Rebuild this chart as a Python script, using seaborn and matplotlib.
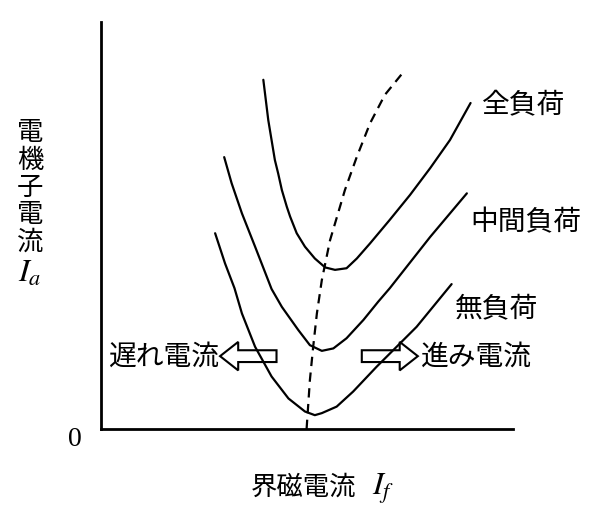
import matplotlib
matplotlib.use("Agg")
import matplotlib.pyplot as plt
from matplotlib.patches import FancyArrow
import seaborn as sns

# V-curves of a synchronous motor (field current vs armature current)
full_x = [3.94, 4.06, 4.14, 4.22, 4.30, 4.39, 4.51, 4.59, 4.75, 4.95, 5.19, 5.44, 5.68, 5.96,
          6.21, 6.53, 7.01, 7.50, 7.99, 8.47, 8.97]
full_y = [8.58, 7.59, 7.10, 6.61, 6.28, 5.87, 5.46, 5.22, 4.81, 4.48, 4.19, 3.97, 3.91, 3.95,
          4.19, 4.56, 5.14, 5.75, 6.41, 7.10, 8.01]

mid_x = [2.99, 3.17, 3.42, 3.74, 4.14, 4.39, 4.79, 5.07, 5.36, 5.64, 5.96, 6.37, 6.73, 7.01, 7.99, 8.88]
mid_y = [6.68, 6.04, 5.30, 4.48, 3.44, 3.00, 2.43, 2.06, 1.92, 1.98, 2.23, 2.68, 3.13, 3.46, 4.72, 5.79]

noload_x = [2.77, 3.01, 3.24, 3.42, 3.74, 4.14, 4.55, 4.95, 5.19, 5.36, 5.72, 6.12, 6.69, 7.66, 8.51]
noload_y = [4.81, 4.07, 3.46, 2.84, 2.02, 1.29, 0.75, 0.43, 0.34, 0.39, 0.55, 0.92, 1.53, 2.51, 3.56]

# locus of power factor 1 (minimum points)
pf1_x = [4.99, 5.07, 5.15, 5.24, 5.36, 5.56, 5.68, 5.92, 6.21, 6.53, 6.89, 7.38]
pf1_y = [0.00, 1.20, 2.02, 2.84, 3.66, 4.64, 5.05, 5.87, 6.69, 7.51, 8.21, 8.82]

curve_labels = ["全負荷", "中間負荷", "無負荷"]
label_pos = [(9.24, 7.96), (8.96, 5.09), (8.59, 2.97)]

sns.set_theme(style="white")
plt.rcParams["font.family"] = ["Noto Sans CJK JP", "DejaVu Sans"]
plt.rcParams["mathtext.fontset"] = "stix"

fig = plt.figure(figsize=(6, 5.16), dpi=100)
ax = fig.add_axes([101 / 600, 87 / 516, 412 / 600, 407 / 516])

for xs, ys in [(full_x, full_y), (mid_x, mid_y), (noload_x, noload_y)]:
    sns.lineplot(x=xs, y=ys, sort=False, color="black", linewidth=1.6,
                 solid_joinstyle="round", solid_capstyle="round", ax=ax)
sns.lineplot(x=pf1_x, y=pf1_y, sort=False, color="black", linewidth=1.6,
             linestyle=(0, (4.2, 2.9)), ax=ax)

for text, (tx, ty) in zip(curve_labels, label_pos):
    ax.text(tx, ty, text, fontsize=20, ha="left", va="center", color="black")

# lagging / leading arrows
ax.add_patch(FancyArrow(4.26, 1.79, -1.37, 0, width=0.29, head_width=0.70,
                        head_length=0.44, length_includes_head=True,
                        fc="white", ec="black", lw=1.5))
ax.add_patch(FancyArrow(6.33, 1.79, 1.36, 0, width=0.29, head_width=0.70,
                        head_length=0.44, length_includes_head=True,
                        fc="white", ec="black", lw=1.5))
ax.text(2.86, 1.79, "遅れ電流", fontsize=20, ha="right", va="center", color="black")
ax.text(7.77, 1.79, "進み電流", fontsize=20, ha="left", va="center", color="black")

ax.set_xlim(0, 10)
ax.set_ylim(0, 10)
ax.set_xticks([])
ax.set_yticks([])
ax.set_xlabel("")
ax.set_ylabel("")
for side in ["top", "right"]:
    ax.spines[side].set_visible(False)
for side in ["left", "bottom"]:
    ax.spines[side].set_color("black")
    ax.spines[side].set_linewidth(2)

# vertical y label
for i, ch in enumerate("電機子電流"):
    fig.text(30 / 600, 1 - (133 + i * 27.3) / 516, ch, fontsize=19,
             ha="center", va="center", color="black")
fig.text(30 / 600, 1 - 273 / 516, "$I_a$", fontsize=23, ha="center",
         va="center", color="black")

fig.text(75 / 600, 1 - 440 / 516, "0", fontsize=20, family="Liberation Serif",
         ha="center", va="center", color="black")

fig.text(251 / 600, 1 - 487 / 516, "界磁電流", fontsize=19, ha="left",
         va="center", color="black")
fig.text(372 / 600, 1 - 489 / 516, "$I_f$", fontsize=23, ha="left",
         va="center", color="black")

fig.savefig("out.png", dpi=100)
